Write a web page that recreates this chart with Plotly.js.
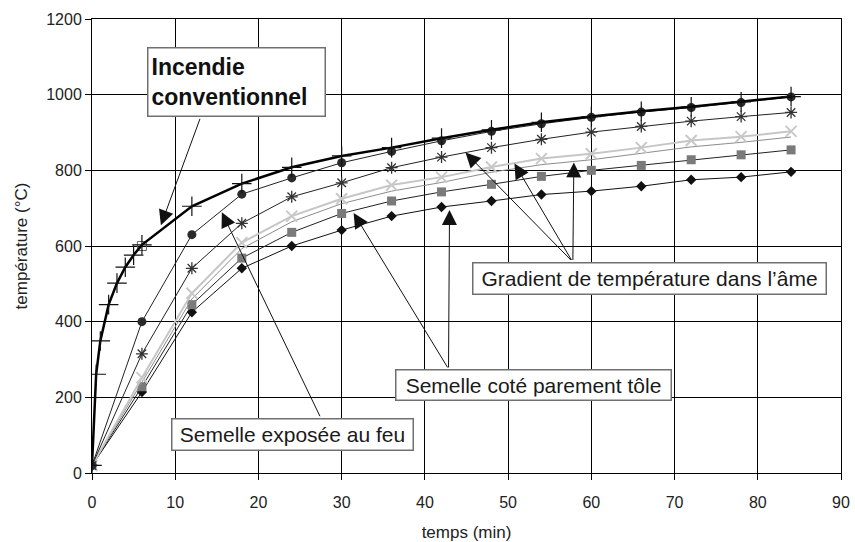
<!DOCTYPE html>
<html>
<head>
<meta charset="utf-8">
<script src="https://cdn.plot.ly/plotly-3.0.1.min.js"></script>
<style>html,body{margin:0;padding:0;background:#fff;}#chart{width:855px;height:542px;}</style>
</head>
<body>
<div id="chart"></div>
<script>
// ---- Data ----
const timeIso = [0, 0.5, 1, 2, 3, 4, 5, 6, 12, 18, 24, 30, 36, 42, 48, 54, 60, 66, 72, 78, 84];
const tempIso = [20, 261, 349, 445, 502, 544, 576, 603, 705, 765, 808, 838, 860, 885, 907, 927, 942, 956, 968, 981, 995];

const timeSteel = [0, 6, 12, 18, 24, 30, 36, 42, 48, 54, 60, 66, 72, 78, 84];
const tempCircle   = [20, 400, 630, 737, 780, 820, 850, 878, 903, 923, 940, 954, 966, 979, 994];
const tempAsterisk = [20, 315, 541, 660, 730, 767, 807, 835, 860, 882, 901, 916, 930, 942, 953];
const tempLightX   = [20, 252, 475, 609, 679, 725, 761, 782, 809, 831, 844, 860, 879, 889, 903];
const tempLightLine= [20, 240, 460, 593, 664, 712, 745, 768, 795, 815, 828, 845, 862, 874, 888];
const tempSquare   = [20, 228, 445, 568, 636, 686, 719, 743, 763, 784, 800, 813, 828, 841, 854];
const tempDiamond  = [20, 214, 425, 541, 600, 642, 679, 703, 719, 736, 745, 758, 775, 782, 796];

const openSquareTime = [6];
const openSquareTemp = [600];

const xTicks = [0, 10, 20, 30, 40, 50, 60, 70, 80, 90];
const yTicks = [0, 200, 400, 600, 800, 1000, 1200];

const labelIso = "<b>Incendie<br>conventionnel</b>";
const labelExposed = "Semelle exposée au feu";
const labelSheet = "Semelle coté parement tôle";
const labelWeb = "Gradient de température dans l’âme";

const FONT = "Liberation Sans, Arial, Helvetica, sans-serif";

const traces = [
  {x: timeSteel, y: tempDiamond, mode: 'lines+markers', line: {color: '#111', width: 1},
   marker: {symbol: 'diamond', size: 8, color: '#111'}},
  {x: timeSteel, y: tempSquare, mode: 'lines+markers', line: {color: '#222', width: 1},
   marker: {symbol: 'square', size: 9, color: '#7a7a7a'}},
  {x: timeSteel, y: tempLightLine, mode: 'lines', line: {color: '#8c8c8c', width: 1}},
  {x: timeSteel, y: tempLightX, mode: 'lines+markers', line: {color: '#c6c6c6', width: 2},
   marker: {symbol: 'x-thin-open', size: 11, color: '#c8c8c8', line: {color: '#c8c8c8', width: 2}}},
  {x: timeSteel, y: tempAsterisk, mode: 'lines+markers', line: {color: '#222', width: 1},
   marker: {symbol: 'asterisk-open', size: 10, color: '#333', line: {color: '#333', width: 1.3}}},
  {x: timeSteel, y: tempCircle, mode: 'lines+markers', line: {color: '#222', width: 1},
   marker: {symbol: 'circle', size: 9, color: '#2a2a2a'}},
  {x: openSquareTime, y: openSquareTemp, mode: 'markers',
   marker: {symbol: 'square-open', size: 9, color: '#666', line: {color: '#666', width: 1}}},
  {x: timeIso, y: tempIso, mode: 'lines+markers', line: {color: '#000', width: 2.5},
   marker: {symbol: 'cross-thin-open', size: 14, color: '#111', line: {color: '#111', width: 1.2}}}
];

function arrow(x, y, ax, ay) {
  return {x: x, y: y, ax: ax, ay: ay, xref: 'x', yref: 'y', axref: 'x', ayref: 'y',
    text: '', showarrow: true, arrowhead: 2, arrowsize: 3, arrowwidth: 1,
    arrowcolor: '#111', standoff: 0, startstandoff: 0};
}

const boxStyle = {xref: 'x', yref: 'y', showarrow: false, bgcolor: '#fff',
  bordercolor: '#707070', borderwidth: 1.5, borderpad: 3,
  font: {family: FONT, size: 21, color: '#1a1a1a'}};

const annotations = [
  arrow(8.28, 655, 13.04, 940),
  arrow(15.6, 689, 27.48, 146),
  arrow(31.44, 687, 42.84, 275),
  arrow(42.96, 695, 42.84, 275),
  arrow(44.88, 847, 57.72, 559),
  arrow(50.76, 818, 57.72, 559),
  arrow(57.9, 821, 57.78, 559),
  Object.assign({}, boxStyle, {x: 17.32, y: 1034, text: labelIso, align: 'left',
    width: 170, height: 61, font: {family: FONT, size: 23, color: '#111'}}),
  Object.assign({}, boxStyle, {x: 24.08, y: 101.6, text: labelExposed, width: 234, height: 24}),
  Object.assign({}, boxStyle, {x: 53.07, y: 232.9, text: labelSheet, width: 268, height: 23}),
  Object.assign({}, boxStyle, {x: 66.93, y: 515.4, text: labelWeb, width: 346, height: 24})
];

const layout = {
  width: 855, height: 542,
  margin: {l: 92, r: 14, t: 19, b: 69},
  paper_bgcolor: '#fff', plot_bgcolor: '#fff',
  showlegend: false,
  font: {family: FONT, color: '#222'},
  xaxis: {
    range: [0, 90], tickvals: xTicks, ticktext: xTicks.map(String),
    showgrid: true, gridcolor: '#000', gridwidth: 1,
    zeroline: false, showline: true, linecolor: '#000', linewidth: 1, mirror: true,
    ticks: 'outside', ticklen: 6, tickcolor: '#000', tickwidth: 1,
    ticklabelstandoff: 9,
    tickfont: {family: FONT, size: 16, color: '#222'},
    title: {text: 'temps (min)', font: {family: FONT, size: 17, color: '#222'}, standoff: 16}
  },
  yaxis: {
    range: [0, 1200], tickvals: yTicks, ticktext: yTicks.map(String),
    showgrid: true, gridcolor: '#000', gridwidth: 1,
    zeroline: false, showline: true, linecolor: '#000', linewidth: 1, mirror: true,
    ticks: 'outside', ticklen: 6, tickcolor: '#000', tickwidth: 1,
    tickfont: {family: FONT, size: 16, color: '#222'},
    title: {text: 'température (°C)', font: {family: FONT, size: 17, color: '#222'}, standoff: 14}
  },
  annotations: annotations
};

Plotly.newPlot('chart', traces, layout, {staticPlot: true, displayModeBar: false});
</script>
</body>
</html>
